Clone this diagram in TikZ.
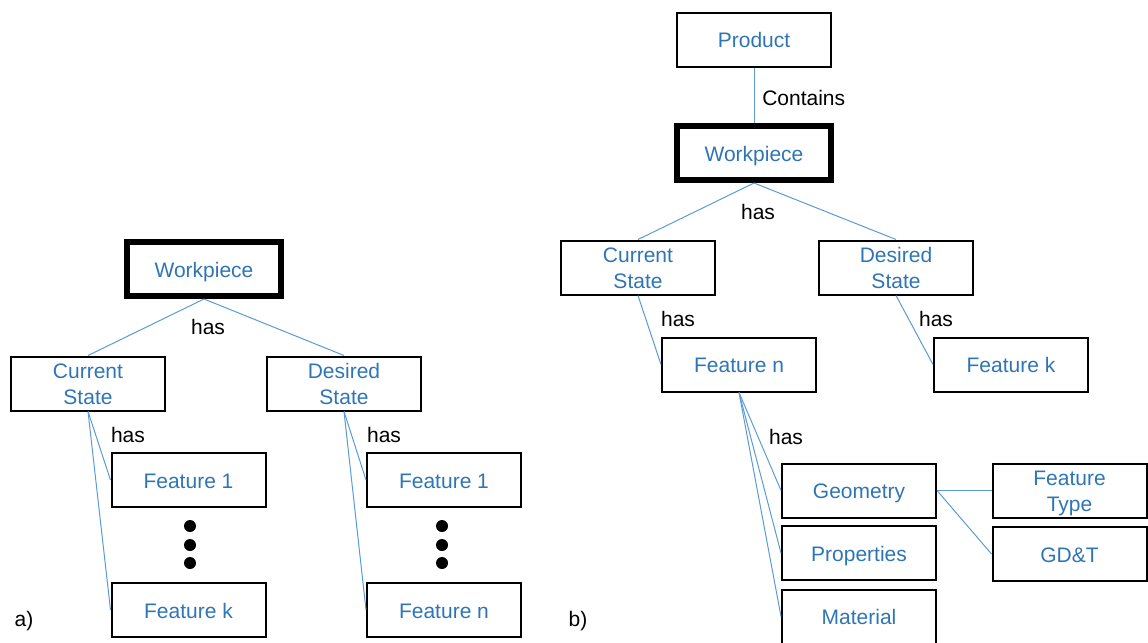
\documentclass[tikz,border=0pt]{standalone}
\usepackage{fontspec}
\setmainfont{Liberation Sans}
\definecolor{txtblue}{RGB}{46,117,182}
\definecolor{lnblue}{RGB}{91,155,213}
% box captions: baselines placed relative to the box centre
\newcommand{\boxone}[1]{\makebox[0pt]{\raisebox{-6pt}[0pt][0pt]{#1}}}
\newcommand{\boxtwo}[2]{\makebox[0pt]{\raisebox{3.4pt}[0pt][0pt]{#1}}%
  \makebox[0pt]{\raisebox{-15.6pt}[0pt][0pt]{#2}}}
\begin{document}
\begin{tikzpicture}[x=0.75pt,y=-0.75pt,
  box/.style={draw=black,line width=1.5pt,minimum width=115.5pt,minimum height=40.5pt,
    inner sep=0pt,text=txtblue,font=\fontsize{15.75}{18.75}\selectfont},
  thickbox/.style={box,line width=4.5pt},
  link/.style={draw=lnblue,line width=0.75pt},
  lbl/.style={inner sep=0pt,text=black,font=\fontsize{15.75}{18.75}\selectfont},
  dot/.style={circle,fill=black,inner sep=0pt,minimum size=9pt}]
\useasboundingbox (0,0) rectangle (1148,642);

% ---- a) ----
\node[thickbox] (aw) at (204,269) {\boxone{Workpiece}};
\node[box] (acs) at (88,383.5) {\boxtwo{Current}{State}};
\node[box] (ads) at (344,383.5) {\boxtwo{Desired}{State}};
\node[box] (af1) at (188.5,480) {\boxone{Feature 1}};
\node[box] (afk) at (188.5,610) {\boxone{Feature k}};
\node[box] (bf1) at (444,480) {\boxone{Feature 1}};
\node[box] (bfn) at (444,610) {\boxone{Feature n}};
\node[dot] (ad1) at (190,526) {};
\node[dot] (ad2) at (190,545) {};
\node[dot] (ad3) at (190,563) {};
\node[dot] (bd1) at (442,526) {};
\node[dot] (bd2) at (442,545) {};
\node[dot] (bd3) at (442,563) {};
\node[lbl] (ahas) at (208,327) {has};
\node[lbl] (ahas2) at (128,435) {has};
\node[lbl] (ahas3) at (384,435) {has};
\node[lbl] (alab) at (24,621) {a)};

\draw[link] (aw.south) -- (acs.north);
\draw[link] (aw.south) -- (ads.north);
\draw[link] (acs.south) -- (af1.west);
\draw[link] (acs.south) -- (afk.west);
\draw[link] (ads.south) -- (bf1.west);
\draw[link] (ads.south) -- (bfn.west);

% ---- b) ----
\node[box] (prod) at (754,40) {\boxone{Product}};
\node[thickbox] (bw) at (754,153) {\boxone{Workpiece}};
\node[box] (rcs) at (638,267.5) {\boxtwo{Current}{State}};
\node[box] (rds) at (896,267.5) {\boxtwo{Desired}{State}};
\node[box] (rfn) at (739,364.5) {\boxone{Feature n}};
\node[box] (rfk) at (1011,364.5) {\boxone{Feature k}};
\node[box] (geo) at (859,490.5) {\boxone{Geometry}};
\node[box] (prop) at (859,553) {\boxone{Properties}};
\node[box] (mat) at (859,616.5) {\boxone{Material}};
\node[box] (ftype) at (1069.5,490.5) {\boxtwo{Feature}{Type}};
\node[box] (gdt) at (1069.5,554) {\boxone{GD\&T}};
\node[lbl,anchor=west] (cont) at (762,98) {Contains};
\node[lbl] (bhas) at (758,212) {has};
\node[lbl] (bhas2) at (678,319) {has};
\node[lbl] (bhas3) at (936,319) {has};
\node[lbl] (bhas4) at (786,437) {has};
\node[lbl] (blab) at (578,621) {b)};

\draw[link] (prod.south) -- (bw.north);
\draw[link] (bw.south) -- (rcs.north);
\draw[link] (bw.south) -- (rds.north);
\draw[link] (rcs.south) -- (rfn.west);
\draw[link] (rds.south) -- (rfk.west);
\draw[link] (rfn.south) -- (geo.west);
\draw[link] (rfn.south) -- (prop.west);
\draw[link] (rfn.south) -- (mat.west);
\draw[link] (geo.east) -- (ftype.west);
\draw[link] (geo.east) -- (gdt.west);
\end{tikzpicture}
\end{document}
